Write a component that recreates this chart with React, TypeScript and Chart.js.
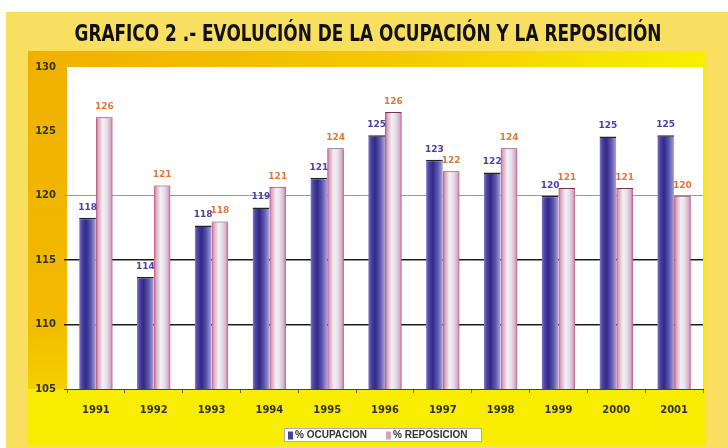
import React, { useEffect, useRef } from 'react';
import { Chart, registerables } from 'chart.js';

Chart.register(...registerables);

const W = 728;
const H = 448;

const chartTitle = 'GRAFICO 2 .- EVOLUCIÓN DE LA OCUPACIÓN Y LA REPOSICIÓN';
const categories = ['1991', '1992', '1993', '1994', '1995', '1996', '1997', '1998', '1999', '2000', '2001'];
const seriesNames = ['% OCUPACION', '% REPOSICION'];
const ocupacion = [118.3, 113.7, 117.7, 119.1, 121.4, 124.7, 122.8, 121.8, 120.0, 124.6, 124.7];
const reposicion = [126.1, 120.8, 118.0, 120.7, 123.7, 126.5, 121.9, 123.7, 120.6, 120.6, 120.0];
const ocupacionLabels = ['118', '114', '118', '119', '121', '125', '123', '122', '120', '125', '125'];
const reposicionLabels = ['126', '121', '118', '121', '124', '126', '122', '124', '121', '121', '120'];
const yMin = 105;
const yMax = 130;
const yStep = 5;

const CAT_PCT = 0.58;

const blueStops: [number, string][] = [
  [0, '#8a80cc'],
  [0.15, '#5046a8'],
  [0.4, '#302a86'],
  [0.7, '#5e56ae'],
  [1, '#aca4de'],
];
const pinkStops: [number, string][] = [
  [0, '#b84a78'],
  [0.12, '#d8a2bc'],
  [0.4, '#f4f0f4'],
  [0.62, '#e6e2ec'],
  [0.86, '#d8b0c8'],
  [1, '#c05888'],
];

function barFill(chart: any, datasetIndex: number, dataIndex: number, stops: [number, string][], fallback: string) {
  const a = chart.chartArea;
  const xs = chart.scales && chart.scales.x;
  if (!a || !xs || typeof dataIndex !== 'number') return fallback;
  const w = (xs.right - xs.left) / categories.length;
  const slot = (w * CAT_PCT) / 2;
  const c = xs.getPixelForValue(dataIndex);
  if (!isFinite(c)) return fallback;
  const x0 = datasetIndex === 0 ? c - slot : c;
  const g = chart.ctx.createLinearGradient(x0, 0, x0 + slot, 0);
  stops.forEach(([o, col]) => g.addColorStop(o, col));
  return g;
}

const decorPlugin = {
  id: 'decor',
  beforeDraw(chart: any) {
    const { ctx, chartArea: a } = chart;
    ctx.save();
    ctx.fillStyle = '#ffffff';
    ctx.fillRect(0, 0, W, H);
    ctx.fillStyle = '#F8DF60';
    ctx.fillRect(6, 12, W - 6, H - 12);
    const ix = 28;
    const iy = 51;
    const ir = a.right + 3;
    const ib = 445;
    ctx.fillStyle = '#F8EC00';
    ctx.fillRect(ix, iy, ir - ix, ib - iy);
    let g = ctx.createLinearGradient(0, iy, 0, a.bottom);
    g.addColorStop(0, '#F0B000');
    g.addColorStop(0.8, '#F2BA00');
    g.addColorStop(1, '#F4D000');
    ctx.fillStyle = g;
    ctx.fillRect(ix, iy, a.left - ix, a.bottom - iy);
    g = ctx.createLinearGradient(ix, 0, ir, 0);
    g.addColorStop(0, '#F0B000');
    g.addColorStop(0.5, '#F4C600');
    g.addColorStop(1, '#F8F000');
    ctx.fillStyle = g;
    ctx.fillRect(ix, iy, ir - ix, a.top - iy);
    ctx.fillStyle = '#ffffff';
    ctx.fillRect(a.left, a.top, a.right - a.left, a.bottom - a.top);
    // title, condensed to the reference width
    ctx.fillStyle = '#111111';
    ctx.font = 'bold 23px "DejaVu Sans Condensed", "DejaVu Sans", sans-serif';
    ctx.textAlign = 'center';
    ctx.textBaseline = 'middle';
    const tw = ctx.measureText(chartTitle).width;
    const target = 587;
    ctx.translate(368, 35);
    ctx.scale(target / tw, 1);
    ctx.fillText(chartTitle, 0, 0);
    ctx.restore();
  },
  afterDatasetsDraw(chart: any) {
    const ctx = chart.ctx;
    ctx.save();
    ctx.font = 'bold 9px "DejaVu Sans", sans-serif';
    ctx.textAlign = 'center';
    ctx.textBaseline = 'bottom';
    [ocupacionLabels, reposicionLabels].forEach((labs, di) => {
      const meta = chart.getDatasetMeta(di);
      ctx.fillStyle = di === 0 ? '#4a40a8' : '#e07838';
      meta.data.forEach((el: any, i: number) => {
        ctx.fillText(labs[i], el.x, el.y - 6);
      });
    });
    ctx.restore();
  },
  afterDraw(chart: any) {
    const ctx = chart.ctx;
    ctx.save();
    const bx = 284;
    const by = 428;
    const bw = 198;
    const bh = 14;
    ctx.fillStyle = '#ffffff';
    ctx.fillRect(bx, by, bw, bh);
    ctx.strokeStyle = '#b0b0b0';
    ctx.lineWidth = 1;
    ctx.strokeRect(bx + 0.5, by + 0.5, bw - 1, bh - 1);
    ctx.font = 'bold 10px "Liberation Sans", sans-serif';
    ctx.textBaseline = 'middle';
    ctx.textAlign = 'left';
    const cy = by + bh / 2 + 0.5;
    ctx.fillStyle = '#4a40a0';
    ctx.fillRect(288, cy - 4, 5, 8);
    ctx.fillStyle = '#333333';
    ctx.fillText(seriesNames[0], 295, cy);
    ctx.fillStyle = '#d8a0bc';
    ctx.fillRect(386, cy - 4, 5, 8);
    ctx.fillStyle = '#333333';
    ctx.fillText(seriesNames[1], 393, cy);
    ctx.restore();
  },
};

export default function App() {
  const ref = useRef<HTMLCanvasElement | null>(null);
  useEffect(() => {
    if (!ref.current) return;
    const chart = new Chart(ref.current, {
      type: 'bar',
      data: {
        labels: categories,
        datasets: [
          {
            label: seriesNames[0],
            data: ocupacion,
            backgroundColor: (c: any) => barFill(c.chart, 0, c.dataIndex, blueStops, '#3c3290'),
            borderColor: '#222222',
            borderWidth: { top: 1.5, left: 0, right: 0, bottom: 0 },
            borderSkipped: 'start',
            categoryPercentage: CAT_PCT,
            barPercentage: 1,
          },
          {
            label: seriesNames[1],
            data: reposicion,
            backgroundColor: (c: any) => barFill(c.chart, 1, c.dataIndex, pinkStops, '#e8c8d8'),
            borderColor: '#7a3050',
            borderWidth: { top: 1, left: 0, right: 0, bottom: 0 },
            borderSkipped: 'start',
            categoryPercentage: CAT_PCT,
            barPercentage: 1,
          },
        ],
      },
      options: {
        animation: false,
        responsive: false,
        maintainAspectRatio: false,
        layout: { padding: { left: 28, top: 67, right: 25, bottom: 3 } },
        plugins: {
          legend: { display: false },
          title: { display: false },
          tooltip: { enabled: false },
        },
        scales: {
          x: {
            grid: { display: true, drawOnChartArea: false, tickLength: 4, color: '#666666', offset: true },
            border: { display: true, color: '#444444', width: 1 },
            ticks: {
              font: { family: 'DejaVu Sans', size: 10, weight: 'bold' },
              color: '#333333',
              padding: 11,
              maxRotation: 0,
            },
            afterFit: (s: any) => {
              s.height = 56;
            },
          },
          y: {
            min: yMin,
            max: yMax,
            ticks: {
              stepSize: yStep,
              font: { family: 'DejaVu Sans', size: 10, weight: 'bold' },
              color: '#333333',
              padding: 8,
            },
            grid: {
              tickLength: 3,
              color: (c: any) => {
                const v = c.tick && c.tick.value;
                if (v === 110 || v === 115) return '#1a1a1a';
                if (v === 120) return '#9a9a9a';
                if (v === 105) return '#444444';
                return 'rgba(0,0,0,0)';
              },
              lineWidth: (c: any) => {
                const v = c.tick && c.tick.value;
                return v === 110 || v === 115 ? 1.5 : 1;
              },
            },
            border: { display: false },
            afterFit: (s: any) => {
              s.width = 39;
            },
          },
        },
      },
      plugins: [decorPlugin],
    } as any);
    return () => chart.destroy();
  }, []);
  return (
    <div style={{ position: 'absolute', left: 0, top: 0, width: W, height: H }}>
      <canvas ref={ref} width={W} height={H} style={{ width: W, height: H, display: 'block' }} />
    </div>
  );
}
